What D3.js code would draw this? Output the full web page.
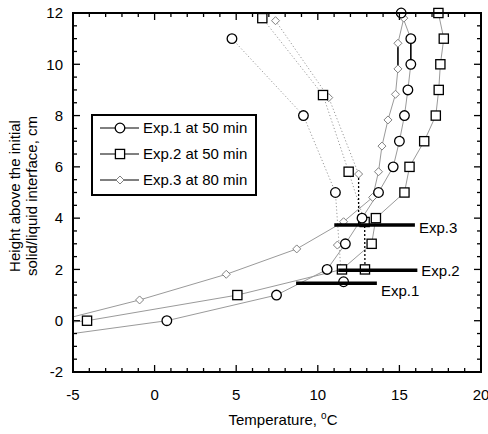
<!DOCTYPE html>
<html><head><meta charset="utf-8">
<script src="https://cdn.jsdelivr.net/npm/d3@7"></script>
<style>body{margin:0;background:#fff}svg{display:block;font-family:Arial,"Liberation Sans",sans-serif}</style>
</head><body><svg id="c" width="488" height="434"></svg>
<script>
// ---------- data ----------
const xTickValues = [-5, 0, 5, 10, 15, 20];
const yTickValues = [-2, 0, 2, 4, 6, 8, 10, 12];
const seriesNames = ["Exp.1 at 50 min", "Exp.2 at 50 min", "Exp.3 at 80 min"];

// Exp.1 (circles)
const exp1SolidT = [0.75, 7.47, 10.57, 11.69, 12.71, 13.72, 14.62, 15.0, 15.31, 15.52, 15.7, 15.7, 15.11];
const exp1SolidH = [0, 1, 2, 3, 4, 5, 6, 7, 8, 9, 10, 11, 12];
const exp1LeadT = [-5], exp1LeadH = [-0.5];
const exp1UpperT = [4.74, 9.12, 11.08];
const exp1UpperH = [11, 8, 5];
const exp1TailT = [11.08, 11.4], exp1TailH = [5, 2.1];
const exp1ExtraT = [11.58], exp1ExtraH = [1.52];
const exp1LinkT = [15.7, 15.7], exp1LinkH = [10, 11];

// Exp.2 (squares)
const exp2SolidT = [-4.14, 5.07, 11.48, 13.3, 13.56, 15.31, 15.62, 16.52, 17.23, 17.41, 17.51, 17.72, 17.39];
const exp2SolidH = [0, 1, 2, 3, 4, 5, 6, 7, 8, 9, 10, 11, 12];
const exp2LeadT = [-5], exp2LeadH = [-0.05];
const exp2UpperT = [6.6, 10.32, 11.89, 12.87];
const exp2UpperH = [11.8, 8.8, 5.81, 3.85];
const exp2DropT = [12.87, 12.89], exp2DropH = [3.85, 2];
const exp2ExtraT = [12.89], exp2ExtraH = [2];

// Exp.3 (diamonds)
const exp3SolidT = [-0.92, 4.39, 8.71, 11.58, 13.36, 13.72, 13.93, 14.3, 14.76, 14.91, 14.91, 15.27];
const exp3SolidH = [0.81, 1.81, 2.8, 3.86, 4.81, 5.81, 6.81, 7.83, 8.83, 9.82, 10.82, 11.8];
const exp3LeadT = [-5], exp3LeadH = [0.15];
const exp3UpperT = [7.41, 10.67, 12.5];
const exp3UpperH = [11.7, 8.7, 5.72];
const exp3DropT = [12.5, 12.5], exp3DropH = [5.72, 3.72];
const exp3ExtraT = [11.2], exp3ExtraH = [2.95];
const exp3LinkT = [14.91, 14.91], exp3LinkH = [9.82, 10.82];

// interface bars
const barLabels = ["Exp.1", "Exp.2", "Exp.3"];
const barH = [1.46, 1.97, 3.73];
const barT0 = [8.67, 11.25, 11.01];
const barT1 = [13.62, 16.1, 15.95];

// ---------- drawing ----------
const svg = d3.select("#c");
const x = d3.scaleLinear().domain([-5, 20]).range([73, 481]);
const y = d3.scaleLinear().domain([-2, 12]).range([372, 13]);
const zip = (a, b) => a.map((v, i) => [v, b[i]]);
const line = d3.line().x(d => x(d[0])).y(d => y(d[1]));
const GREY = "#9a9a9a";
const FS = 15;

// solid grey branches (with lead-in to the left axis)
[[exp1LeadT, exp1LeadH, exp1SolidT, exp1SolidH],
 [exp2LeadT, exp2LeadH, exp2SolidT, exp2SolidH],
 [exp3LeadT, exp3LeadH, exp3SolidT, exp3SolidH]].forEach(([lt, lh, t, h]) => {
  svg.append("path").attr("d", line(zip(lt.concat(t), lh.concat(h))))
    .attr("fill", "none").attr("stroke", GREY).attr("stroke-width", 1);
});
// dotted grey upper branches
[zip(exp1UpperT, exp1UpperH), zip(exp1TailT, exp1TailH), zip(exp2UpperT, exp2UpperH), zip(exp3UpperT, exp3UpperH)].forEach(pts => {
  svg.append("path").attr("d", line(pts)).attr("fill", "none")
    .attr("stroke", GREY).attr("stroke-width", 1).attr("stroke-dasharray", "1.2,2.2");
});
// black dotted drops
[zip(exp2DropT, exp2DropH), zip(exp3DropT, exp3DropH)].forEach(pts => {
  svg.append("path").attr("d", line(pts)).attr("fill", "none")
    .attr("stroke", "#000").attr("stroke-width", 1.3).attr("stroke-dasharray", "2,2");
});
// black solid links
[zip(exp1LinkT, exp1LinkH), zip(exp3LinkT, exp3LinkH)].forEach(pts => {
  svg.append("path").attr("d", line(pts)).attr("fill", "none")
    .attr("stroke", "#000").attr("stroke-width", 1.5);
});

// markers
function circle(g, cx, cy) {
  g.append("circle").attr("cx", cx).attr("cy", cy).attr("r", 4.8)
    .attr("fill", "#fff").attr("stroke", "#000").attr("stroke-width", 1.3);
}
function square(g, cx, cy) {
  g.append("rect").attr("x", cx - 4.6).attr("y", cy - 4.6).attr("width", 9.2).attr("height", 9.2)
    .attr("fill", "#fff").attr("stroke", "#000").attr("stroke-width", 1.3);
}
function diamond(g, cx, cy) {
  const r = 4;
  g.append("path").attr("d", `M${cx},${cy - r}L${cx + r},${cy}L${cx},${cy + r}L${cx - r},${cy}Z`)
    .attr("fill", "#fff").attr("stroke", "#808080").attr("stroke-width", 1);
}
const mk = svg.append("g");
zip(exp3SolidT, exp3SolidH).concat(zip(exp3UpperT, exp3UpperH), zip(exp3ExtraT, exp3ExtraH))
  .forEach(d => diamond(mk, x(d[0]), y(d[1])));
zip(exp2SolidT, exp2SolidH).concat(zip(exp2UpperT, exp2UpperH), zip(exp2ExtraT, exp2ExtraH))
  .forEach(d => square(mk, x(d[0]), y(d[1])));
zip(exp1SolidT, exp1SolidH).concat(zip(exp1UpperT, exp1UpperH), zip(exp1ExtraT, exp1ExtraH))
  .forEach(d => circle(mk, x(d[0]), y(d[1])));

// bars (drawn over markers)
barLabels.forEach((lab, i) => {
  svg.append("line").attr("x1", x(barT0[i])).attr("x2", x(barT1[i]))
    .attr("y1", y(barH[i])).attr("y2", y(barH[i]))
    .attr("stroke", "#000").attr("stroke-width", 3.5);
});
const labelDy = [12.7, 5.4, 8.3];
barLabels.forEach((lab, i) => {
  svg.append("text").attr("x", x(barT1[i]) + 4).attr("y", y(barH[i]) + labelDy[i])
    .attr("font-size", FS).attr("fill", "#000").text(lab);
});

// frame
svg.append("rect").attr("x", 73).attr("y", 13).attr("width", 408).attr("height", 359)
  .attr("fill", "none").attr("stroke", "#000").attr("stroke-width", 2);

// ticks
const xMinor = d3.range(-5, 20.001, 1);
const yMinor = d3.range(-2, 12.001, 0.5);
const tk = svg.append("g").attr("stroke", "#000").attr("stroke-width", 1.3);
xMinor.forEach(v => {
  const L = (Math.abs(v % 5) < 1e-6) ? 7 : 4;
  tk.append("line").attr("x1", x(v)).attr("x2", x(v)).attr("y1", 372).attr("y2", 372 - L);
  tk.append("line").attr("x1", x(v)).attr("x2", x(v)).attr("y1", 13).attr("y2", 13 + L);
});
yMinor.forEach(v => {
  const L = (Math.abs(v % 2) < 1e-6) ? 7 : 4;
  tk.append("line").attr("x1", 73).attr("x2", 73 + L).attr("y1", y(v)).attr("y2", y(v));
  tk.append("line").attr("x1", 481).attr("x2", 481 - L).attr("y1", y(v)).attr("y2", y(v));
});

// tick labels
xTickValues.forEach(v => {
  svg.append("text").attr("x", x(v)).attr("y", 400).attr("text-anchor", "middle")
    .attr("font-size", FS).text(v);
});
yTickValues.forEach(v => {
  svg.append("text").attr("x", 63).attr("y", y(v) + 5.3).attr("text-anchor", "end")
    .attr("font-size", FS).text(v);
});

// axis titles
const xt = svg.append("text").attr("x", 283).attr("y", 425).attr("text-anchor", "middle").attr("font-size", FS);
xt.append("tspan").text("Temperature, ");
xt.append("tspan").attr("font-size", 10).attr("dy", -6).text("o");
xt.append("tspan").attr("dy", 6).text("C");
const yt = svg.append("text").attr("transform", "translate(20,196) rotate(-90)")
  .attr("text-anchor", "middle").attr("font-size", FS);
yt.append("tspan").attr("x", 0).attr("y", 0).text("Height above the initial");
yt.append("tspan").attr("x", 0).attr("y", 17).text("solid/liquid interface, cm");

// legend
const lg = svg.append("g");
lg.append("rect").attr("x", 92).attr("y", 115).attr("width", 164).attr("height", 80)
  .attr("fill", "#fff").attr("stroke", "#000").attr("stroke-width", 2);
const rowY = [128, 154, 180];
const drawers = [circle, square, diamond];
seriesNames.forEach((name, i) => {
  lg.append("line").attr("x1", 100).attr("x2", 139).attr("y1", rowY[i]).attr("y2", rowY[i])
    .attr("stroke", "#000").attr("stroke-width", 1);
  drawers[i](lg, 120, rowY[i]);
  lg.append("text").attr("x", 143).attr("y", rowY[i] + 5.3).attr("font-size", FS).text(name);
});
</script></body></html>
